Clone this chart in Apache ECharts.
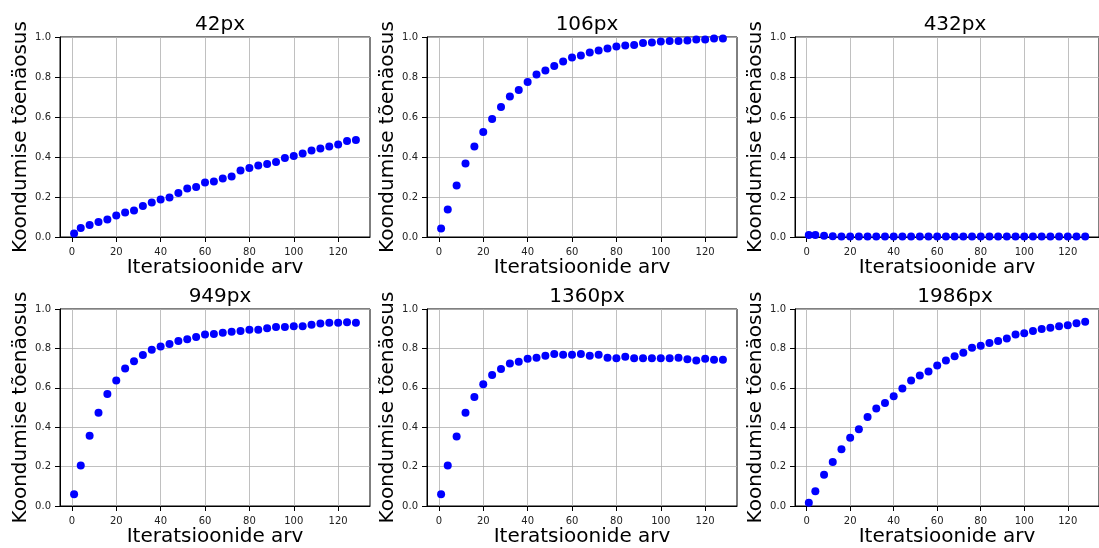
<!DOCTYPE html>
<html>
<head>
<meta charset="utf-8">
<script src="https://cdn.jsdelivr.net/npm/echarts@6/dist/echarts.min.js"></script>
<style>
html,body{margin:0;padding:0;background:#fff;}
#chart{width:1099px;height:548px;}
</style>
</head>
<body>
<div id="chart"></div>
<script>
const panelTitles = ['42px', '106px', '432px', '949px', '1360px', '1986px'];
const xLabel = 'Iteratsioonide arv';
const yLabel = 'Koondumise tõenäosus';
const xTicks = [0, 20, 40, 60, 80, 100, 120];
const yTicks = [0, 0.2, 0.4, 0.6, 0.8, 1.0];

const iterations = [1, 4, 8, 12, 16, 20, 24, 28, 32, 36, 40, 44, 48, 52, 56, 60, 64, 68, 72, 76, 80, 84, 88, 92, 96, 100, 104, 108, 112, 116, 120, 124, 128];

const p42 = [0.017, 0.045, 0.060, 0.075, 0.087, 0.108, 0.123, 0.133, 0.155, 0.173, 0.188, 0.198, 0.220, 0.242, 0.250, 0.272, 0.278, 0.293, 0.303, 0.332, 0.345, 0.358, 0.365, 0.375, 0.395, 0.405, 0.417, 0.432, 0.442, 0.453, 0.463, 0.480, 0.485];
const p106 = [0.042, 0.137, 0.257, 0.368, 0.453, 0.525, 0.590, 0.650, 0.702, 0.735, 0.775, 0.812, 0.833, 0.855, 0.877, 0.898, 0.908, 0.923, 0.933, 0.942, 0.953, 0.957, 0.960, 0.970, 0.973, 0.977, 0.980, 0.980, 0.983, 0.987, 0.988, 0.992, 0.992];
const p432 = [0.010, 0.010, 0.006, 0.004, 0.003, 0.003, 0.003, 0.003, 0.003, 0.003, 0.003, 0.003, 0.003, 0.003, 0.003, 0.003, 0.003, 0.003, 0.003, 0.003, 0.003, 0.003, 0.003, 0.003, 0.003, 0.003, 0.003, 0.003, 0.003, 0.003, 0.003, 0.003, 0.003];
const p949 = [0.060, 0.205, 0.357, 0.473, 0.568, 0.637, 0.698, 0.735, 0.767, 0.793, 0.810, 0.822, 0.837, 0.847, 0.858, 0.870, 0.873, 0.880, 0.885, 0.888, 0.895, 0.895, 0.902, 0.908, 0.908, 0.913, 0.913, 0.920, 0.927, 0.930, 0.930, 0.933, 0.930];
const p1360 = [0.060, 0.205, 0.353, 0.473, 0.553, 0.618, 0.665, 0.695, 0.723, 0.732, 0.747, 0.752, 0.763, 0.772, 0.768, 0.768, 0.772, 0.763, 0.768, 0.752, 0.750, 0.757, 0.750, 0.750, 0.750, 0.750, 0.750, 0.753, 0.745, 0.738, 0.747, 0.743, 0.743];
const p1986 = [0.017, 0.075, 0.158, 0.223, 0.288, 0.347, 0.390, 0.452, 0.495, 0.523, 0.557, 0.597, 0.637, 0.662, 0.683, 0.713, 0.738, 0.760, 0.778, 0.803, 0.813, 0.828, 0.837, 0.850, 0.870, 0.877, 0.888, 0.898, 0.905, 0.913, 0.917, 0.928, 0.935];

const allSeries = [p42, p106, p432, p949, p1360, p1986];

const FONT = 'DejaVu Sans';
const lefts = [60, 427, 795];
const tops = [37, 309];
const W = 310, H = 200;

const xMin = -5.35, xMax = 134.35;

const grids = [], xAxes = [], yAxes = [], series = [], titles = [];
for (let i = 0; i < 6; i++) {
  const col = i % 3, row = Math.floor(i / 3);
  grids.push({
    left: lefts[col], top: tops[row], width: W, height: H,
    show: true, borderColor: '#000', borderWidth: 1, backgroundColor: 'transparent',
    containLabel: false
  });
  xAxes.push({
    type: 'value', gridIndex: i, min: xMin, max: xMax,
    name: xLabel, nameLocation: 'middle', nameGap: 21,
    nameTextStyle: { fontFamily: FONT, fontSize: 20, color: '#000', verticalAlign: 'top' },
    axisLine: { show: true, onZero: false, lineStyle: { color: '#000', width: 1 } },
    axisTick: { show: true, length: 5, inside: false, customValues: xTicks, lineStyle: { color: '#000' } },
    axisLabel: { customValues: xTicks, margin: 10, fontFamily: FONT, fontSize: 10, color: '#222', showMinLabel: true, showMaxLabel: true },
    splitLine: { show: true, lineStyle: { color: '#b0b0b0', width: 0.8 } }
  });
  yAxes.push({
    type: 'value', gridIndex: i, min: 0, max: 1, interval: 0.2,
    name: yLabel, nameLocation: 'middle', nameGap: 28,
    nameTextStyle: { fontFamily: FONT, fontSize: 20, color: '#000' },
    axisLine: { show: true, onZero: false, lineStyle: { color: '#000', width: 1 } },
    axisTick: { show: true, length: 5, inside: false, lineStyle: { color: '#000' } },
    axisLabel: { margin: 9, fontFamily: FONT, fontSize: 10, color: '#222', formatter: v => v.toFixed(1) },
    splitLine: { show: true, lineStyle: { color: '#b0b0b0', width: 0.8 } }
  });
  series.push({
    type: 'scatter', xAxisIndex: i, yAxisIndex: i,
    symbol: 'circle', symbolSize: 8,
    itemStyle: { color: '#0000ff', opacity: 1 },
    data: iterations.map((x, k) => [x, allSeries[i][k]]),
    clip: true, silent: true
  });
  titles.push({
    text: panelTitles[i], left: lefts[col] + W / 2, top: tops[row] - 27, textAlign: 'center',
    textStyle: { fontFamily: FONT, fontSize: 20, fontWeight: 'normal', color: '#000' }
  });
}

const chart = echarts.init(document.getElementById('chart'), null, { renderer: 'canvas' });
chart.setOption({
  animation: false,
  backgroundColor: '#fff',
  title: titles,
  grid: grids,
  xAxis: xAxes,
  yAxis: yAxes,
  series: series
});
</script>
</body>
</html>
